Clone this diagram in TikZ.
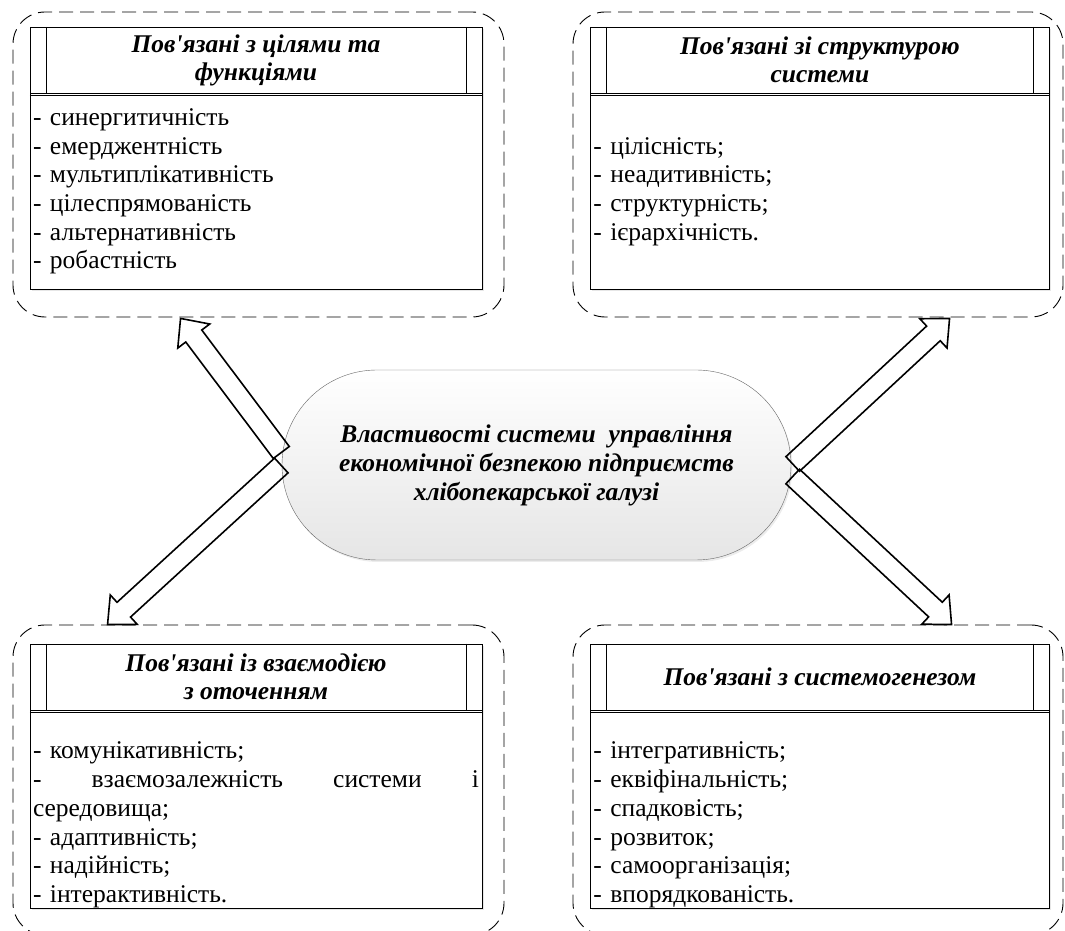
\documentclass[tikz,border=0pt]{standalone}
\usepackage{fontspec}
\setmainfont{Liberation Serif}
\usepackage{tikz}
\usetikzlibrary{shapes, positioning, shadows, calc}
\tikzset{
    grpbox/.style={rectangle, draw, dash pattern=on 14pt off 7pt, line width=0.9pt, rounded corners=32pt, minimum width=491pt},
    headbox/.style={rectangle, draw, fill=white, align=center, inner sep=0pt, minimum height=66pt, font=\fontsize{25.5}{28}\selectfont\bfseries\itshape, drop shadow={opacity=0.2, shadow xshift=2pt, shadow yshift=-2pt}},
    itembox/.style={rectangle, draw, fill=white, align=left, inner xsep=3pt, inner ysep=0pt, minimum height=196pt, font=\fontsize{25.5}{28.7}\selectfont, drop shadow={opacity=0.2, shadow xshift=2pt, shadow yshift=-2pt}},
    corebox/.style={rectangle, rounded corners=95pt, draw=black!60, top color=white, bottom color=black!10, minimum width=509pt, minimum height=190pt, align=center, font=\fontsize{25.5}{29}\selectfont\bfseries\itshape, drop shadow={opacity=0.15, shadow xshift=1.5pt, shadow yshift=-2pt}},
    blockarrow/.style={draw, line width=1.6pt, line join=miter}
}

\begin{document}
\begin{tikzpicture}[x=1pt, y=1pt]
    \useasboundingbox (0,0) rectangle (1065,931);

    % Dashed groups
    \node[grpbox, minimum height=305pt] (grpA) at (258.5,766.5) {};
    \node[grpbox, minimum width=490pt, minimum height=305pt] (grpB) at (818,766.5) {};
    \node[grpbox, minimum height=310pt] (grpC) at (258.5,151) {};
    \node[grpbox, minimum width=490pt, minimum height=310pt] (grpD) at (818,151) {};

    % Top row
    \node[headbox, minimum width=452pt] (hdrA) at (256,871) {Пов\textquotesingle язані з цілями та\\функціями};
    \node[itembox, text width=446pt, below=0pt of hdrA] (lstA) {- синергитичність\\- емерджентність\\- мультиплікативність\\- цілеспрямованість\\- альтернативність\\- робастність};
    \node[headbox, minimum width=459pt, right=108pt of hdrA] (hdrB) {Пов\textquotesingle язані зі структурою\\системи};
    \node[itembox, text width=453pt, below=0pt of hdrB] (lstB) {\strut\\- цілісність;\\- неадитивність;\\- структурність;\\- ієрархічність.\\\strut};

    % Bottom row
    \node[headbox, minimum width=452pt, below=354pt of lstA] (hdrC) {Пов\textquotesingle язані із взаємодією\\з оточенням};
    \node[itembox, text width=446pt, below=0pt of hdrC] (lstC) {\strut\\- комунікативність;\\-\hfill взаємозалежність\hfill системи\hfill і\\середовища;\\- адаптивність;\\- надійність;\\- інтерактивність.};
    \node[headbox, minimum width=459pt, right=108pt of hdrC] (hdrD) {Пов\textquotesingle язані з системогенезом};
    \node[itembox, text width=453pt, below=0pt of hdrD] (lstD) {\strut\\- інтегративність;\\- еквіфінальність;\\- спадковість;\\- розвиток;\\- самоорганізація;\\- впорядкованість.};

    % Header strips and double rule
    \foreach \h in {hdrA, hdrB, hdrC, hdrD} {
        \draw ([xshift=16pt]\h.north west) -- ([xshift=16pt]\h.south west);
        \draw ([xshift=-16pt]\h.north east) -- ([xshift=-16pt]\h.south east);
        \draw ([yshift=-2.5pt]\h.south west) -- ([yshift=-2.5pt]\h.south east);
    }

    % Centre
    \node[corebox] (core) at (536.5,466) {Властивості системи\ \ управління\\економічної безпекою підприємств\\хлібопекарської галузі};

    % Arrow ends
    \coordinate (tailA) at ($(core.west)+(-0.5,12.5)$);
    \coordinate (tipA) at ($(grpA.south west)+(168,-1)$);
    \coordinate (tailB) at ($(core.east)+(1.5,1)$);
    \coordinate (tipB) at ($(grpB.south west)+(377,-1)$);
    \coordinate (tailC) at ($(core.west)+(-0.5,-0.5)$);
    \coordinate (tipC) at ($(grpC.north west)+(95,0)$);
    \coordinate (tailD) at ($(core.east)+(1.5,-11.5)$);
    \coordinate (tipD) at ($(grpD.north west)+(379,0)$);

    % Block arrows
    \foreach \t/\h in {tailA/tipA, tailB/tipB, tailC/tipC, tailD/tipD} {
        \coordinate (base) at ($(\h)!22pt!(\t)$);
        \draw[blockarrow] ($(\t)!10pt!-90:(\h)$) -- ($(base)!10pt!-90:(\h)$) -- ($(base)!20pt!-90:(\h)$) -- (\h)
            -- ($(base)!20pt!90:(\h)$) -- ($(base)!10pt!90:(\h)$) -- ($(\t)!10pt!90:(\h)$) -- cycle;
    }

\end{tikzpicture}
\end{document}
